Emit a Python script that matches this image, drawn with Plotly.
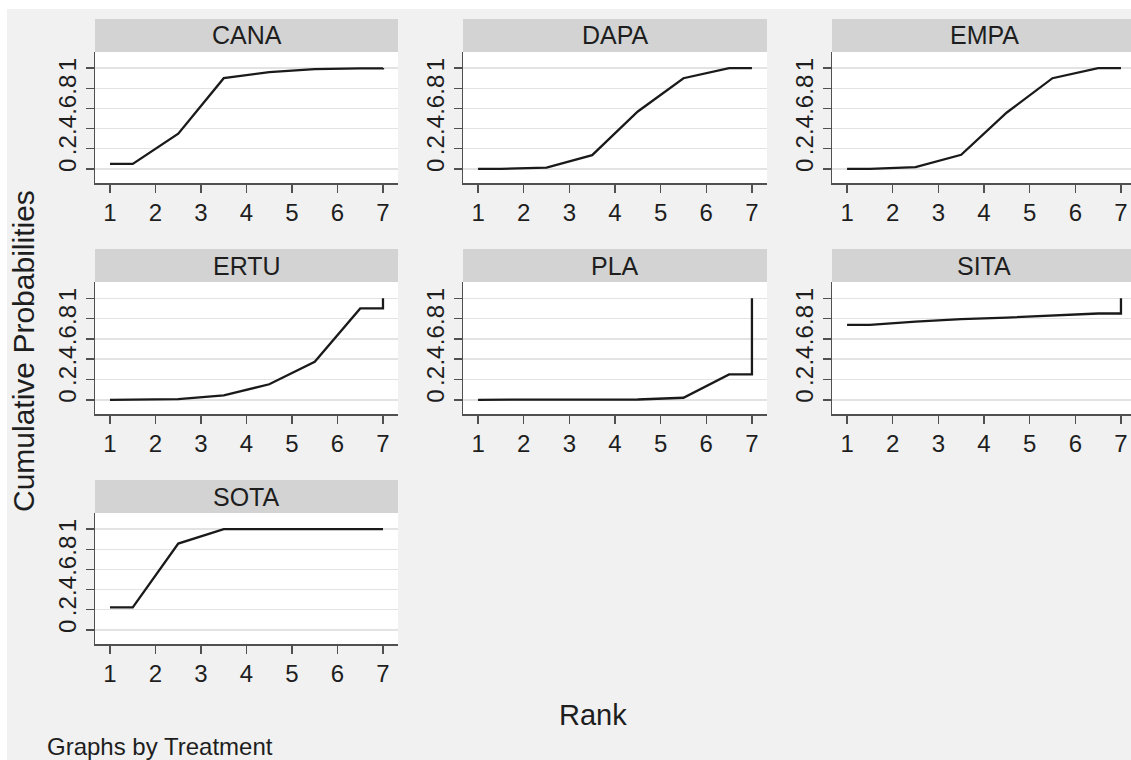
import plotly.graph_objects as go

# ---- data (cumulative rank probabilities) ----
treatments = ["CANA", "DAPA", "EMPA", "ERTU", "PLA", "SITA", "SOTA"]
ranks = [1, 2, 3, 4, 5, 6, 7]
cana = [0.05, 0.35, 0.90, 0.96, 0.99, 0.997, 1.00]
dapa = [0.00, 0.013, 0.136, 0.57, 0.90, 1.00, 1.00]
empa = [0.00, 0.017, 0.14, 0.56, 0.90, 1.00, 1.00]
ertu = [0.00, 0.007, 0.043, 0.153, 0.375, 0.90, 1.00]
pla = [0.00, 0.00, 0.00, 0.003, 0.02, 0.25, 1.00]
sita = [0.737, 0.77, 0.795, 0.81, 0.827, 0.85, 1.00]
sota = [0.223, 0.857, 1.00, 1.00, 1.00, 1.00, 1.00]
series = [cana, dapa, empa, ertu, pla, sita, sota]

x_ticks = [1, 2, 3, 4, 5, 6, 7]
y_tickvals = [0, 0.2, 0.4, 0.6, 0.8, 1.0]
y_ticktext = ["0", ".2", ".4", ".6", ".8", "1"]

# ---- layout geometry (screen pixels) ----
W, H = 1131, 760
col_px = [(95, 398), (463, 767), (832, 1131)]
col_range = [[0.67, 7.33], [0.67, 7.33], [0.67, 7.22]]
strip_right = [398, 767, 1136]
row_plot_px = [(52, 183), (282, 414), (513, 644)]
row_strip_px = [(19, 52), (249, 282), (480, 513)]
positions = [(0, 0), (0, 1), (0, 2), (1, 0), (1, 1), (1, 2), (2, 0)]

FONT = "Liberation Sans, Arial, sans-serif"
TXT = "#1e1e1e"
AX = "#505050"

def px_x(p):
    return min(max(p / W, 0), 1)

def px_y(p):
    return min(max(1 - p / H, 0), 1)

def step_path(cum):
    # Stata-style cumulative rank curve: plateau at 1..1.5, points at k+0.5, plateau to 7, then jump
    xs = [ranks[0], ranks[0] + 0.5] + [r + 0.5 for r in ranks[1:-1]] + [ranks[-1], ranks[-1]]
    ys = [cum[0], cum[0]] + list(cum[1:-1]) + [cum[-2], cum[-1]]
    return xs, ys

fig = go.Figure()
shapes = [dict(type="rect", xref="paper", yref="paper",
               x0=px_x(7), x1=1, y0=0, y1=px_y(9),
               fillcolor="#f1f1f1", line=dict(width=0), layer="below")]
annotations = []

layout_axes = {}
for i, (name, cum, (r, c)) in enumerate(zip(treatments, series, positions)):
    k = "" if i == 0 else str(i + 1)
    xs, ys = step_path(cum)
    fig.add_trace(go.Scatter(x=xs, y=ys, mode="lines",
                             line=dict(color="#1a1a1a", width=2.3),
                             xaxis="x" + k, yaxis="y" + k,
                             showlegend=False, hoverinfo="skip"))
    x0, x1 = col_px[c]
    yt, yb = row_plot_px[r]
    layout_axes["xaxis" + k] = dict(
        domain=[px_x(x0), px_x(x1)], range=col_range[c], anchor="y" + k,
        tickvals=x_ticks, ticks="outside", ticklen=8, tickwidth=1.5, tickcolor=AX,
        showline=True, linecolor=AX, linewidth=1.5, showgrid=False, zeroline=False,
        tickfont=dict(size=24, color=TXT, family=FONT), fixedrange=True,
        ticklabeloverflow="allow")
    layout_axes["yaxis" + k] = dict(
        domain=[px_y(yb), px_y(yt)], range=[-0.14, 1.16], anchor="x" + k,
        tickvals=y_tickvals, ticktext=y_ticktext, tickangle=-90,
        ticks="outside", ticklen=8, tickwidth=1.5, tickcolor=AX,
        showline=True, linecolor=AX, linewidth=1.5,
        showgrid=True, gridcolor="#e3e3e3", gridwidth=1.5, zeroline=False,
        tickfont=dict(size=24, color=TXT, family=FONT), fixedrange=True)
    # white plot background
    shapes.append(dict(type="rect", xref="paper", yref="paper",
                       x0=px_x(x0), x1=px_x(x1), y0=px_y(yb), y1=px_y(yt),
                       fillcolor="white", line=dict(width=0), layer="below"))
    # strip header
    st, sb = row_strip_px[r]
    shapes.append(dict(type="rect", xref="paper", yref="paper",
                       x0=px_x(x0), x1=px_x(strip_right[c]), y0=px_y(sb), y1=px_y(st),
                       fillcolor="#d3d3d3", line=dict(width=0), layer="below"))
    annotations.append(dict(text=name, xref="paper", yref="paper",
                            x=((x0 + strip_right[c]) / 2) / W,
                            y=px_y((st + sb) / 2), xanchor="center", yanchor="middle",
                            showarrow=False, font=dict(size=25, color=TXT, family=FONT)))

annotations.append(dict(text="Cumulative Probabilities", xref="paper", yref="paper",
                        x=px_x(24), y=px_y(351), textangle=-90, xanchor="center",
                        yanchor="middle", showarrow=False,
                        font=dict(size=30, color=TXT, family=FONT)))
annotations.append(dict(text="Rank", xref="paper", yref="paper",
                        x=px_x(593), y=px_y(715), xanchor="center", yanchor="middle",
                        showarrow=False, font=dict(size=29, color=TXT, family=FONT)))
annotations.append(dict(text="Graphs by Treatment", xref="paper", yref="paper",
                        x=px_x(45), y=px_y(746), xanchor="left", yanchor="middle",
                        showarrow=False, font=dict(size=24, color=TXT, family=FONT)))

fig.update_layout(width=W, height=H, margin=dict(l=0, r=0, t=0, b=0),
                  paper_bgcolor="white", plot_bgcolor="rgba(0,0,0,0)",
                  shapes=shapes, annotations=annotations,
                  font=dict(family=FONT, color=TXT), **layout_axes)

fig.write_html("out.html",
               config={"displayModeBar": False, "staticPlot": True},
               post_script="document.body.style.margin='0';"
                           "document.body.style.padding='0';"
                           "document.documentElement.style.overflow='hidden';"
                           "document.body.style.overflow='hidden';")
